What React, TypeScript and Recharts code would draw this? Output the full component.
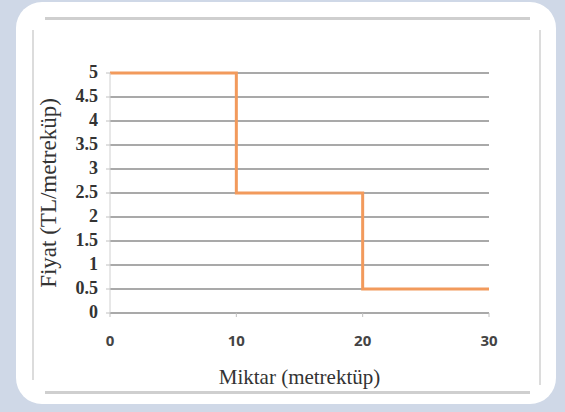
import React from "react";
import { LineChart, Line, XAxis, YAxis, CartesianGrid, Label } from "recharts";

const quantities = [0, 10, 20, 30];
const prices = [5, 2.5, 0.5, 0.5];
const xTicks = [0, 10, 20, 30];
const yTicks = [0, 0.5, 1, 1.5, 2, 2.5, 3, 3.5, 4, 4.5, 5];
const xTitle = "Miktar  (metrektüp)";
const yTitle = "Fiyat (TL/metreküp)";

const data = quantities.map((q, i) => ({ q, p: prices[i] }));

const serif = "'Liberation Serif', 'DejaVu Serif', serif";

const YTick = (props: any) => {
  const { x, y, payload } = props;
  return (
    <text
      x={x}
      y={y}
      dy={5}
      textAnchor="end"
      fill="#333"
      style={{ fontFamily: serif, fontSize: 18, fontWeight: 700 }}
    >
      {payload.value}
    </text>
  );
};

const XTick = (props: any) => {
  const { x, y, payload } = props;
  return (
    <text
      x={x}
      y={y}
      dy={12}
      textAnchor="middle"
      fill="#444"
      style={{ fontFamily: "'Open Sans', sans-serif", fontSize: 15, fontWeight: 700 }}
    >
      {payload.value}
    </text>
  );
};

export default function App() {
  return (
    <div
      style={{
        position: "fixed",
        left: 0,
        top: 0,
        width: 565,
        height: 412,
        background: "#cfd8e7",
        overflow: "hidden",
      }}
    >
      <div
        style={{
          position: "absolute",
          left: 16,
          top: 2,
          width: 540,
          height: 402,
          background: "#ffffff",
          borderRadius: 26,
        }}
      />
      <div style={{ position: "absolute", left: 45, top: 17, width: 485, height: 3, background: "#cfcfcf" }} />
      <div style={{ position: "absolute", left: 45, top: 391, width: 485, height: 3, background: "#cfcfcf" }} />
      <div style={{ position: "absolute", left: 32, top: 30, width: 2, height: 350, background: "#dcdcdc" }} />
      <div style={{ position: "absolute", left: 539, top: 30, width: 2, height: 355, background: "#dcdcdc" }} />
      <div style={{ position: "absolute", left: 0, top: 0 }}>
        <LineChart
          width={565}
          height={412}
          data={data}
          margin={{ top: 73, right: 76, bottom: 69, left: 50 }}
        >
          <CartesianGrid vertical={false} stroke="#a9a9a9" strokeWidth={2} />
          <XAxis
            dataKey="q"
            type="number"
            domain={[0, 30]}
            ticks={xTicks}
            height={30}
            axisLine={{ stroke: "#a9a9a9", strokeWidth: 2 }}
            tickLine={{ stroke: "#c0c0c0" }}
            tickSize={4}
            tickMargin={17}
            tick={<XTick />}
          >
            <Label
              value={xTitle}
              position="bottom"
              offset={26}
              style={{ fill: "#333", fontSize: 21, fontFamily: serif }}
            />
          </XAxis>
          <YAxis
            dataKey="p"
            type="number"
            domain={[0, 5]}
            ticks={yTicks}
            width={60}
            interval={0}
            axisLine={{ stroke: "#d0d0d0", strokeWidth: 1 }}
            tickLine={{ stroke: "#c0c0c0" }}
            tickSize={4}
            tickMargin={8}
            tick={<YTick />}
          >
            <Label
              value={yTitle}
              angle={-90}
              position="insideLeft"
              offset={-2}
              style={{ textAnchor: "middle", fill: "#333", fontSize: 23, fontFamily: serif }}
            />
          </YAxis>
          <Line
            type="stepAfter"
            dataKey="p"
            stroke="#f29a5c"
            strokeWidth={3}
            dot={false}
            isAnimationActive={false}
          />
        </LineChart>
      </div>
    </div>
  );
}
